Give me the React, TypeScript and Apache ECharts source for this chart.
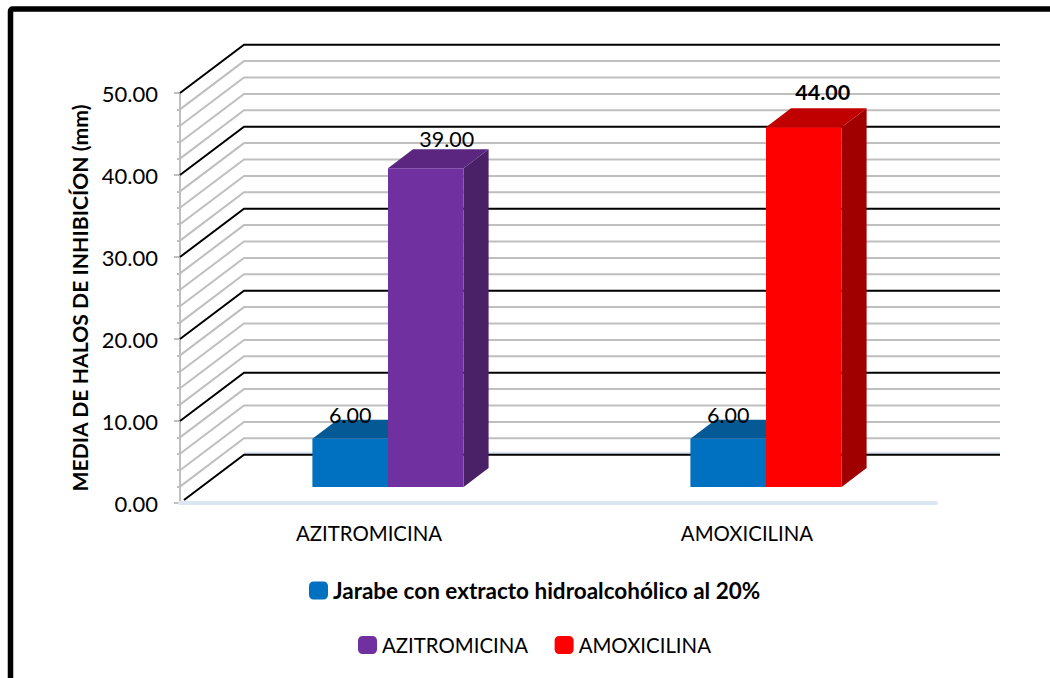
import React, { useEffect, useRef } from "react";
import * as echarts from "echarts";

const FONT = "Lato, Carlito, sans-serif";

const categories = ["AZITROMICINA", "AMOXICILINA"];
const syrupValues = [6, 6];
const azithromycinValues = [39, null];
const amoxicillinValues = [null, 44];
const gridValues = [0, 2, 4, 6, 8, 10, 12, 14, 16, 18, 20, 22, 24, 26, 28, 30, 32, 34, 36, 38, 40, 42, 44, 46, 48, 50];

const SYRUP = "Jarabe con extracto hidroalcohólico al 20%";
const AZI = "AZITROMICINA";
const AMO = "AMOXICILINA";

// Depth of the chart's back wall and of the bars, in pixels.
const WALL_DX = 64;
const WALL_DY = 48.3;
const BAR_DX = 25;
const BAR_DY = 19;
const PLANE_DX = 19;
const PLANE_DY = 16;

function wallRenderer(params: any, api: any) {
  const v = api.value(0);
  const cs = params.coordSys;
  const y = api.coord([0, v])[1];
  const x0 = cs.x;
  const x1 = cs.x + cs.width;
  const isMajor = v % 10 === 0;
  const startX = v === 0 ? x0 + 4 : x0;
  const startY = v === 0 ? y - 3 : y;
  const children: any[] = [];
  if (v === 0) {
    children.push({
      type: "line",
      shape: { x1: x0 + WALL_DX, y1: y - WALL_DY - 1.5, x2: x1 + WALL_DX, y2: y - WALL_DY - 1.5 },
      style: { stroke: "#dce6f2", lineWidth: 3, fill: "none" },
    });
  }
  children.push({
    type: "polyline",
    shape: {
      points: [
        [startX, startY],
        [x0 + WALL_DX, y - WALL_DY],
        [x1 + WALL_DX, y - WALL_DY],
      ],
    },
    style: {
      stroke: isMajor ? "#000000" : "#bfbfbf",
      lineWidth: 2,
      fill: "none",
    },
  });
  return { type: "group", children };
}

function barRenderer(slot: number, colors: string[], labelDx: number, labelDy: number, bold: boolean) {
  return (_params: any, api: any) => {
    const cat = api.value(0);
    const val = api.value(1);
    if (val == null || Number.isNaN(val)) return null;
    const base = api.coord([cat, 0]);
    const top = api.coord([cat, val]);
    const w = api.size([1, 0])[0] * 0.2;
    const xl = base[0] + PLANE_DX + slot * w;
    const xr = xl + w;
    const yb = base[1] - PLANE_DY;
    const yt = top[1] - PLANE_DY + 1;
    return {
      type: "group",
      children: [
        {
          type: "polygon",
          shape: { points: [[xr, yt], [xr + BAR_DX, yt - BAR_DY], [xr + BAR_DX, yb - BAR_DY], [xr, yb]] },
          style: { fill: colors[2] },
        },
        {
          type: "polygon",
          shape: { points: [[xl, yt], [xl + BAR_DX, yt - BAR_DY], [xr + BAR_DX, yt - BAR_DY], [xr, yt]] },
          style: { fill: colors[1] },
        },
        {
          type: "rect",
          shape: { x: xl, y: yt, width: w, height: yb - yt },
          style: { fill: colors[0] },
        },
        {
          type: "text",
          x: xl + w / 2 + labelDx,
          y: yt + labelDy,
          style: {
            text: Number(val).toFixed(2),
            fill: "#000000",
            font: `${bold ? "bold " : ""}21.5px ${FONT}`,
            align: "center",
            verticalAlign: "middle",
          },
        },
      ],
    };
  };
}

function barData(values: (number | null)[]) {
  return values.map((v, i) => [i, v]);
}

export default function App() {
  const ref = useRef<HTMLDivElement>(null);
  useEffect(() => {
    if (!ref.current) return;
    const chart = echarts.init(ref.current, undefined, { renderer: "svg" });
    chart.setOption({
      animation: false,
      backgroundColor: "#ffffff",
      textStyle: { fontFamily: FONT },
      grid: { left: 180, right: 114, top: 93, bottom: 175 },
      xAxis: {
        type: "category",
        data: categories,
        axisLine: { lineStyle: { color: "#dce6f2", width: 4 } },
        axisTick: { show: false },
        axisLabel: { color: "#000000", fontSize: 20.4, fontFamily: FONT, margin: 20 },
        splitLine: { show: false },
        z: 1,
      },
      yAxis: {
        type: "value",
        min: 0,
        max: 50,
        interval: 10,
        name: "MEDIA DE HALOS DE INHIBICÍON (mm)",
        nameLocation: "middle",
        nameGap: 90,
        nameTextStyle: { color: "#000000", fontSize: 21.2, fontWeight: "bold", fontFamily: FONT },
        axisLine: { show: true, lineStyle: { color: "#bfbfbf", width: 2 } },
        axisTick: { show: true, length: 6, lineStyle: { color: "#bfbfbf", width: 2 } },
        minorTick: { show: true, splitNumber: 5, length: 3, lineStyle: { color: "#bfbfbf", width: 2 } },
        minorSplitLine: { show: false },
        splitLine: { show: false },
        axisLabel: {
          color: "#000000",
          fontSize: 22,
          fontFamily: FONT,
          margin: 22,
          padding: [4, 0, 0, 0],
          formatter: (v: number) => v.toFixed(2),
        },
      },
      legend: [
        {
          data: [SYRUP],
          left: 309,
          top: 579,
          icon: "roundRect",
          itemWidth: 19,
          itemHeight: 18,
          itemGap: 25,
          selectedMode: false,
          textStyle: { color: "#000000", fontSize: 22.5, fontWeight: "bold", fontFamily: FONT, padding: [0, 0, 2, 0] },
          padding: 0,
        },
        {
          data: [AZI, AMO],
          left: 358,
          top: 635,
          icon: "roundRect",
          itemWidth: 19,
          itemHeight: 18,
          itemGap: 26.5,
          selectedMode: false,
          textStyle: { color: "#000000", fontSize: 20.4, fontFamily: FONT, padding: [0, 0, 2, 0] },
          padding: 0,
        },
      ],
      graphic: [
        {
          type: "rect",
          z: 100,
          shape: { x: 10.5, y: 9, width: 1200, height: 800, r: 2 },
          style: { fill: "none", stroke: "#000000", lineWidth: 5.5 },
          silent: true,
        },
      ],
      series: [
        {
          type: "custom",
          name: "wall",
          z: 1,
          silent: true,
          clip: false,
          coordinateSystem: "cartesian2d",
          data: gridValues.map((v) => [v]),
          encode: { y: 0 },
          renderItem: wallRenderer,
        },
        {
          type: "custom",
          name: SYRUP,
          z: 2,
          itemStyle: { color: "#0070c0" },
          clip: false,
          data: barData(syrupValues),
          encode: { x: 0, y: 1 },
          renderItem: barRenderer(-1, ["#0070c0", "#055a96", "#045080"], 0, -24, false),
        },
        {
          type: "custom",
          name: AZI,
          z: 3,
          itemStyle: { color: "#7030a0" },
          clip: false,
          data: barData(azithromycinValues),
          encode: { x: 0, y: 1 },
          renderItem: barRenderer(0, ["#7030a0", "#5a2680", "#4a2066"], 21, -29, false),
        },
        {
          type: "custom",
          name: AMO,
          z: 3,
          itemStyle: { color: "#ff0000" },
          clip: false,
          data: barData(amoxicillinValues),
          encode: { x: 0, y: 1 },
          renderItem: barRenderer(0, ["#ff0000", "#c00000", "#a00000"], 19, -35, true),
        },
      ],
    });
    return () => chart.dispose();
  }, []);
  return <div ref={ref} style={{ position: "absolute", left: 0, top: 0, width: 1050, height: 678 }} />;
}
